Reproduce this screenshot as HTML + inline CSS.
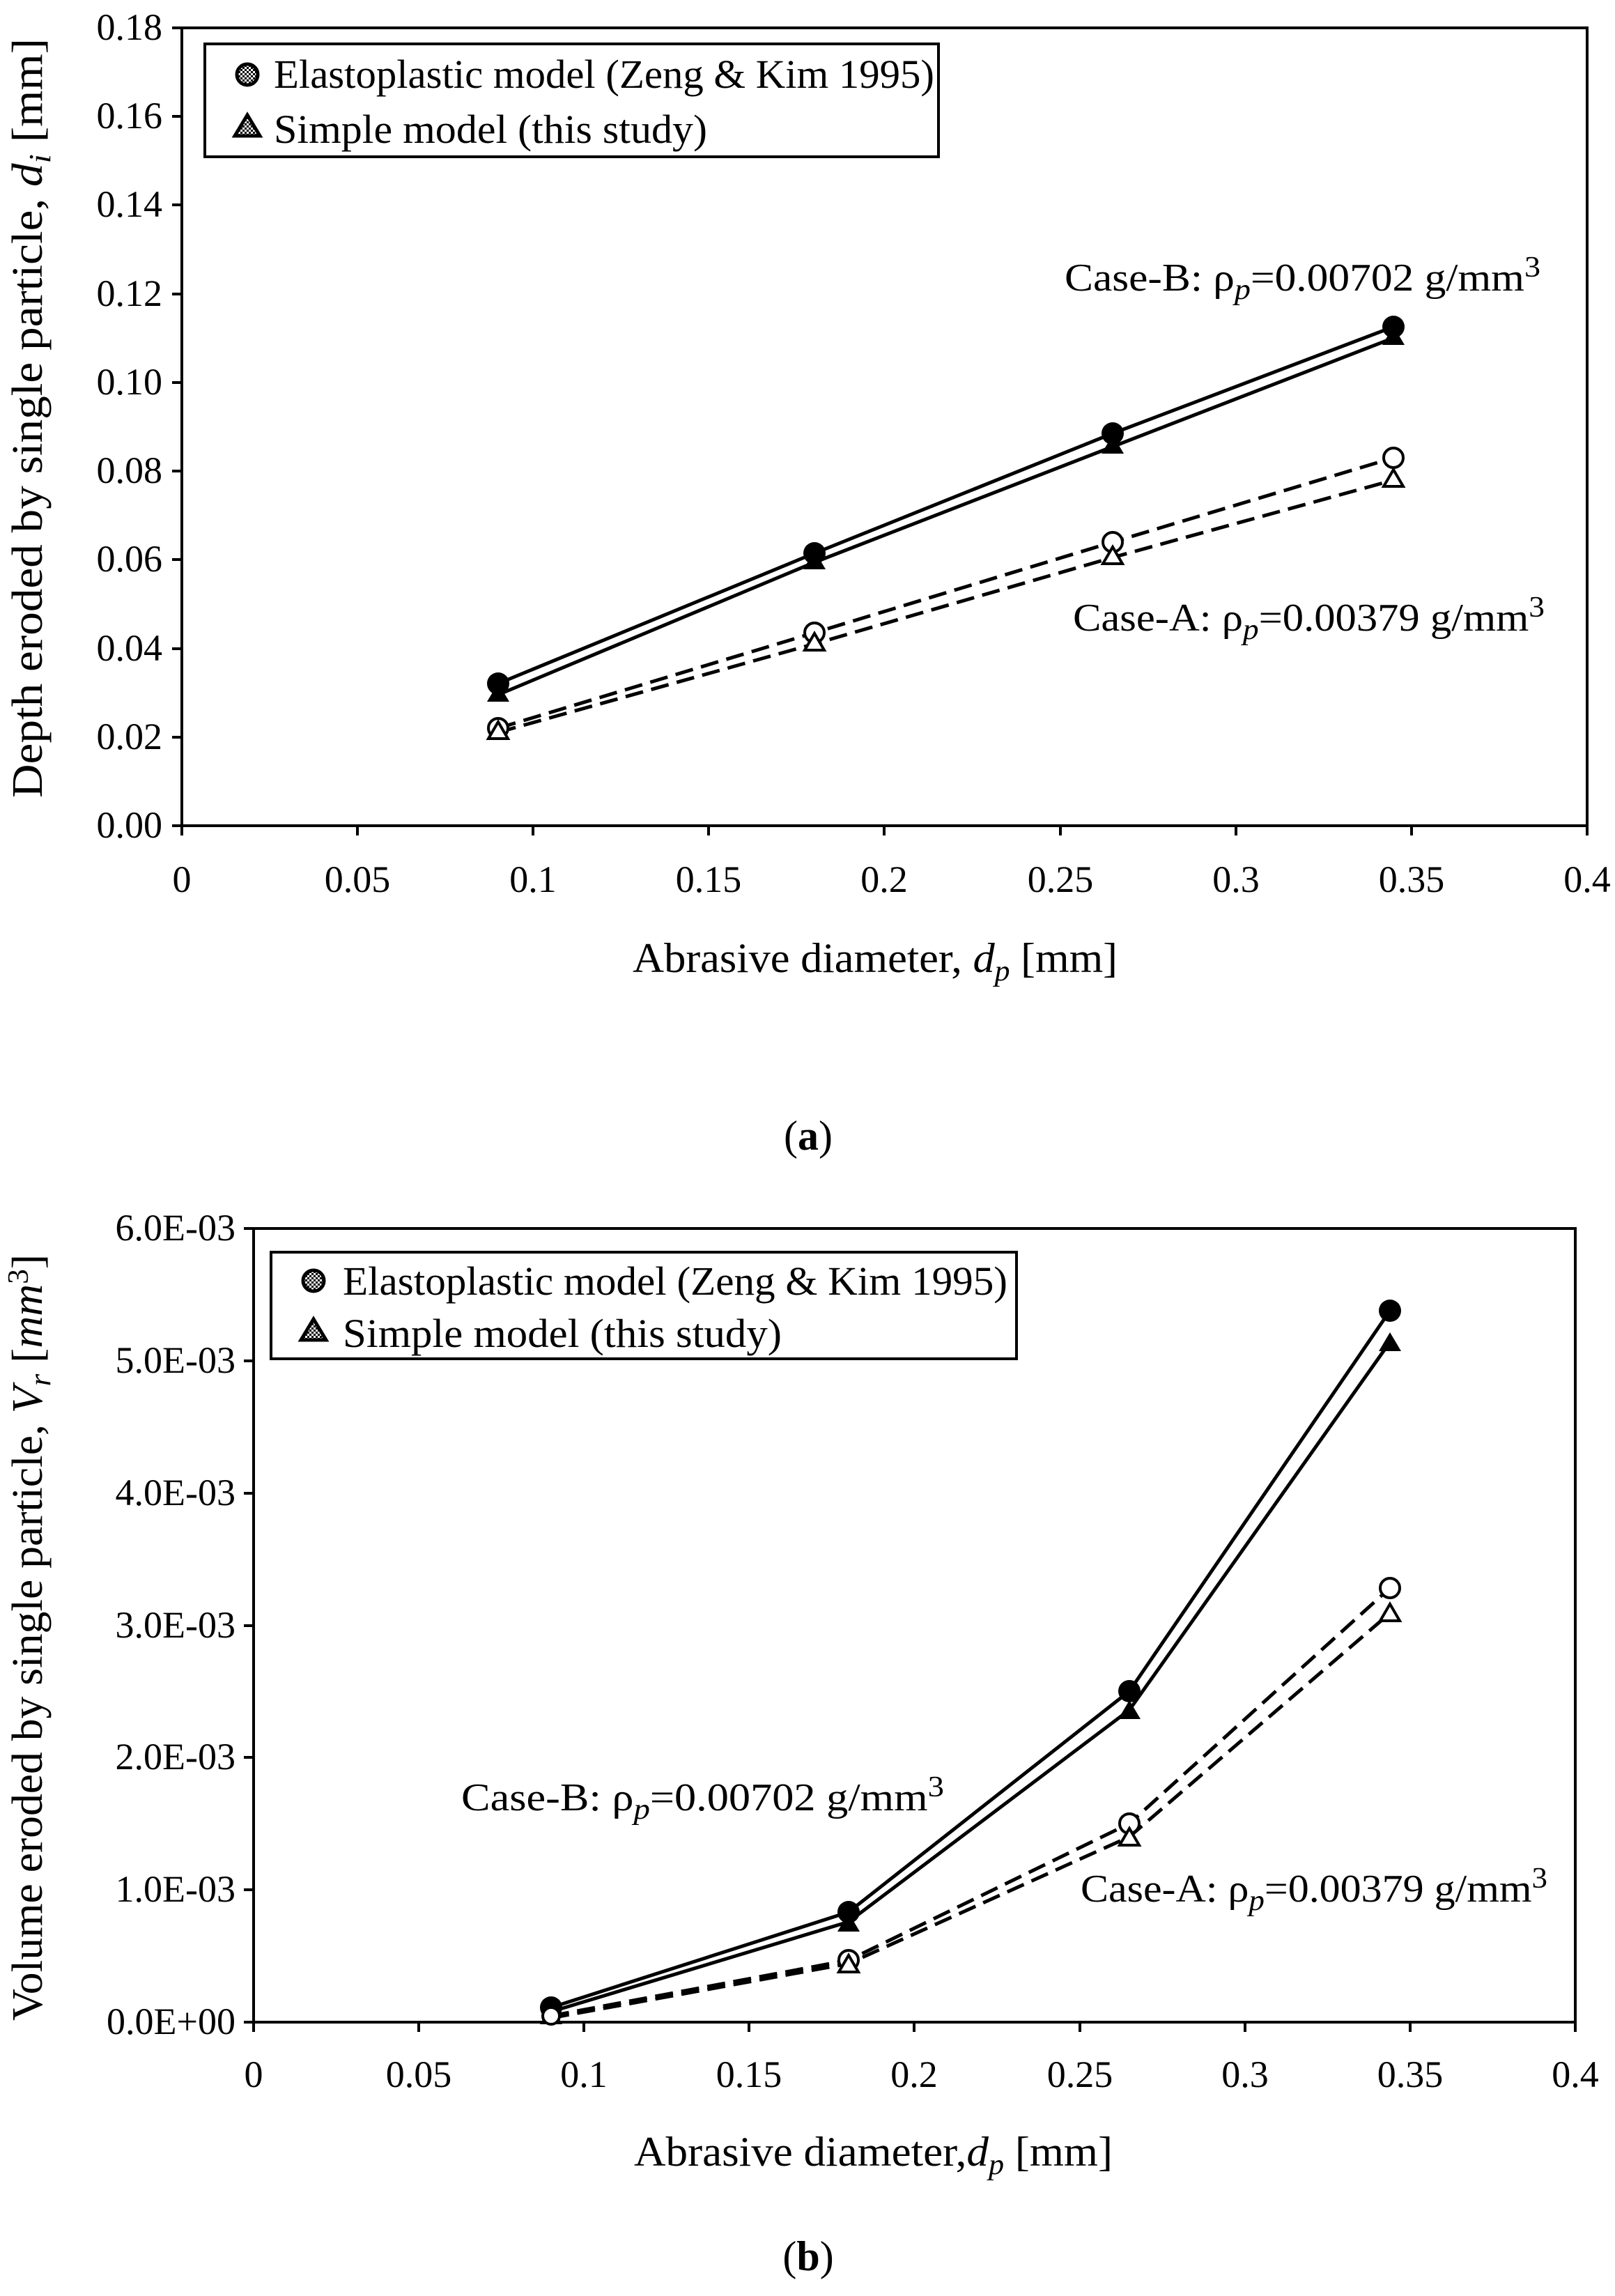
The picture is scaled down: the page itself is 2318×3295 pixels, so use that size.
<!DOCTYPE html>
<html><head><meta charset="utf-8"><style>html,body{margin:0;padding:0;background:#fff}svg{display:block}</style></head>
<body>
<svg width="2318" height="3295" viewBox="0 0 2318 3295" xmlns="http://www.w3.org/2000/svg" font-family="Liberation Serif, serif" fill="#000">
<defs>
<pattern id="hat" width="6" height="6" patternUnits="userSpaceOnUse"><rect width="6" height="6" fill="#fff"/><rect width="3" height="3" fill="#000"/><rect x="3" y="3" width="3" height="3" fill="#000"/></pattern>
</defs>
<!-- ============ Chart A ============ -->
<g stroke="#000" stroke-width="4" fill="none">
<rect x="261" y="40" width="2017" height="1145"/>
<path d="M261 1185h-14M261 1058h-14M261 931h-14M261 803h-14M261 676h-14M261 549h-14M261 422h-14M261 294h-14M261 167h-14M261 40h-14"/>
<path d="M261 1185v14M513 1185v14M765 1185v14M1017 1185v14M1269 1185v14M1522 1185v14M1774 1185v14M2026 1185v14M2278 1185v14"/>
</g>
<g font-size="54" text-anchor="end">
<text x="233" y="1202">0.00</text><text x="233" y="1075">0.02</text><text x="233" y="948">0.04</text><text x="233" y="820">0.06</text><text x="233" y="693">0.08</text><text x="233" y="566">0.10</text><text x="233" y="439">0.12</text><text x="233" y="311">0.14</text><text x="233" y="184">0.16</text><text x="233" y="57">0.18</text>
</g>
<g font-size="54" text-anchor="middle">
<text x="261" y="1280">0</text><text x="513" y="1280">0.05</text><text x="765" y="1280">0.1</text><text x="1017" y="1280">0.15</text><text x="1269" y="1280">0.2</text><text x="1522" y="1280">0.25</text><text x="1774" y="1280">0.3</text><text x="2026" y="1280">0.35</text><text x="2278" y="1280">0.4</text>
<text x="1604" y="1395" font-size="60" text-anchor="end" textLength="696" lengthAdjust="spacingAndGlyphs">Abrasive diameter, <tspan font-style="italic">d</tspan><tspan font-style="italic" font-size="42" dy="12">p</tspan><tspan dy="-12"> [mm]</tspan></text>
<text x="1160" y="1650" font-size="60">(<tspan font-weight="bold">a</tspan>)</text>
</g>
<text transform="translate(60,1145) rotate(-90)" font-size="62" textLength="1090" lengthAdjust="spacingAndGlyphs">Depth eroded by single particle, <tspan font-style="italic">d</tspan><tspan font-style="italic" font-size="44" dy="12">i</tspan><tspan dy="-12"> [mm]</tspan></text>
<g fill="none" stroke="#000" stroke-width="5">
<polyline points="715,981 1169,794 1597,622 2000,469"/>
<polyline points="715,997 1169,807 1597,641 2000,485"/>
<polyline points="715,1045 1169,908 1597,778 2000,657" stroke-dasharray="26,12"/>
<polyline points="715,1051 1169,924 1597,800 2000,689" stroke-dasharray="26,12"/>
</g>
<g>
<circle cx="715" cy="981" r="16"/><circle cx="1169" cy="794" r="16"/><circle cx="1597" cy="622" r="16"/><circle cx="2000" cy="469" r="16"/>
<path d="M715 980l-16 27h32zM1169 790l-16 27h32zM1597 624l-16 27h32zM2000 468l-16 27h32z"/>
</g>
<g fill="#fff" stroke="#000" stroke-width="4">
<circle cx="715" cy="1045" r="14"/><circle cx="1169" cy="908" r="14"/><circle cx="1597" cy="778" r="14"/><circle cx="2000" cy="657" r="14"/>
<path d="M715 1036l-14 24h28zM1169 909l-14 24h28zM1597 785l-14 24h28zM2000 674l-14 24h28z"/>
</g>
<text x="1528" y="417" font-size="56" textLength="683" lengthAdjust="spacingAndGlyphs">Case-B: ρ<tspan font-style="italic" font-size="42" dy="12">p</tspan><tspan dy="-12">=0.00702 g/mm</tspan><tspan font-size="42" dy="-20">3</tspan></text>
<text x="1540" y="905" font-size="56" textLength="677" lengthAdjust="spacingAndGlyphs">Case-A: ρ<tspan font-style="italic" font-size="42" dy="12">p</tspan><tspan dy="-12">=0.00379 g/mm</tspan><tspan font-size="42" dy="-20">3</tspan></text>
<rect x="294" y="63" width="1053" height="162" fill="#fff" stroke="#000" stroke-width="4"/>
<circle cx="355" cy="107" r="15" fill="url(#hat)" stroke="#000" stroke-width="5"/>
<path d="M355 165l-18 30h36z" fill="url(#hat)" stroke="#000" stroke-width="5"/>
<text x="393" y="126" font-size="58" textLength="948" lengthAdjust="spacingAndGlyphs">Elastoplastic model (Zeng &amp; Kim 1995)</text>
<text x="393" y="205" font-size="58" textLength="622" lengthAdjust="spacingAndGlyphs">Simple model (this study)</text>

<!-- ============ Chart B ============ -->
<g stroke="#000" stroke-width="4" fill="none">
<rect x="364" y="1763" width="1897" height="1139"/>
<path d="M364 2902h-14M364 2712h-14M364 2522h-14M364 2333h-14M364 2143h-14M364 1953h-14M364 1763h-14"/>
<path d="M364 2902v14M601 2902v14M838 2902v14M1075 2902v14M1312 2902v14M1550 2902v14M1787 2902v14M2024 2902v14M2261 2902v14"/>
</g>
<g font-size="54" text-anchor="end">
<text x="338" y="2919">0.0E+00</text><text x="338" y="2729">1.0E-03</text><text x="338" y="2539">2.0E-03</text><text x="338" y="2350">3.0E-03</text><text x="338" y="2160">4.0E-03</text><text x="338" y="1970">5.0E-03</text><text x="338" y="1780">6.0E-03</text>
</g>
<g font-size="54" text-anchor="middle">
<text x="364" y="2995">0</text><text x="601" y="2995">0.05</text><text x="838" y="2995">0.1</text><text x="1075" y="2995">0.15</text><text x="1312" y="2995">0.2</text><text x="1550" y="2995">0.25</text><text x="1787" y="2995">0.3</text><text x="2024" y="2995">0.35</text><text x="2261" y="2995">0.4</text>
<text x="1597" y="3108" font-size="60" text-anchor="end" textLength="687" lengthAdjust="spacingAndGlyphs">Abrasive diameter,<tspan font-style="italic">d</tspan><tspan font-style="italic" font-size="42" dy="12">p</tspan><tspan dy="-12"> [mm]</tspan></text>
<text x="1160" y="3258" font-size="60">(<tspan font-weight="bold">b</tspan>)</text>
</g>
<text transform="translate(60,2900) rotate(-90)" font-size="62" textLength="1100" lengthAdjust="spacingAndGlyphs">Volume eroded by single particle, <tspan font-style="italic">V</tspan><tspan font-style="italic" font-size="44" dy="12">r</tspan><tspan dy="-12"> [</tspan><tspan font-style="italic">mm</tspan><tspan font-size="42" dy="-20">3</tspan><tspan dy="20">]</tspan></text>
<g fill="none" stroke="#000" stroke-width="5">
<polyline points="791,2881 1218,2744 1621,2427 1995,1881"/>
<polyline points="791,2887 1218,2758 1621,2454 1995,1926"/>
<polyline points="791,2893 1218,2813 1621,2617 1995,2279" stroke-dasharray="26,12"/>
<polyline points="791,2896 1218,2818 1621,2636 1995,2315" stroke-dasharray="26,12"/>
</g>
<g>
<circle cx="791" cy="2881" r="16"/><circle cx="1218" cy="2744" r="16"/><circle cx="1621" cy="2427" r="16"/><circle cx="1995" cy="1881" r="16"/>
<path d="M791 2878l-16 27h32zM1218 2745l-16 27h32zM1621 2440l-16 27h32zM1995 1912l-16 27h32z"/>
</g>
<g fill="#fff" stroke="#000" stroke-width="4">
<circle cx="791" cy="2893" r="12"/><circle cx="1218" cy="2813" r="14"/><circle cx="1621" cy="2617" r="14"/><circle cx="1995" cy="2279" r="14"/>
<path d="M1218 2806l-14 24h28zM1621 2624l-14 24h28zM1995 2302l-14 24h28z"/>
</g>
<text x="662" y="2598" font-size="56" textLength="693" lengthAdjust="spacingAndGlyphs">Case-B: ρ<tspan font-style="italic" font-size="42" dy="12">p</tspan><tspan dy="-12">=0.00702 g/mm</tspan><tspan font-size="42" dy="-20">3</tspan></text>
<text x="1551" y="2729" font-size="56" textLength="670" lengthAdjust="spacingAndGlyphs">Case-A: ρ<tspan font-style="italic" font-size="42" dy="12">p</tspan><tspan dy="-12">=0.00379 g/mm</tspan><tspan font-size="42" dy="-20">3</tspan></text>
<rect x="389" y="1797" width="1070" height="153" fill="#fff" stroke="#000" stroke-width="4"/>
<circle cx="450" cy="1838" r="15" fill="url(#hat)" stroke="#000" stroke-width="5"/>
<path d="M450 1893l-18 30h36z" fill="url(#hat)" stroke="#000" stroke-width="5"/>
<text x="492" y="1858" font-size="58" textLength="954" lengthAdjust="spacingAndGlyphs">Elastoplastic model (Zeng &amp; Kim 1995)</text>
<text x="492" y="1933" font-size="58" textLength="630" lengthAdjust="spacingAndGlyphs">Simple model (this study)</text>
</svg>
</body></html>
